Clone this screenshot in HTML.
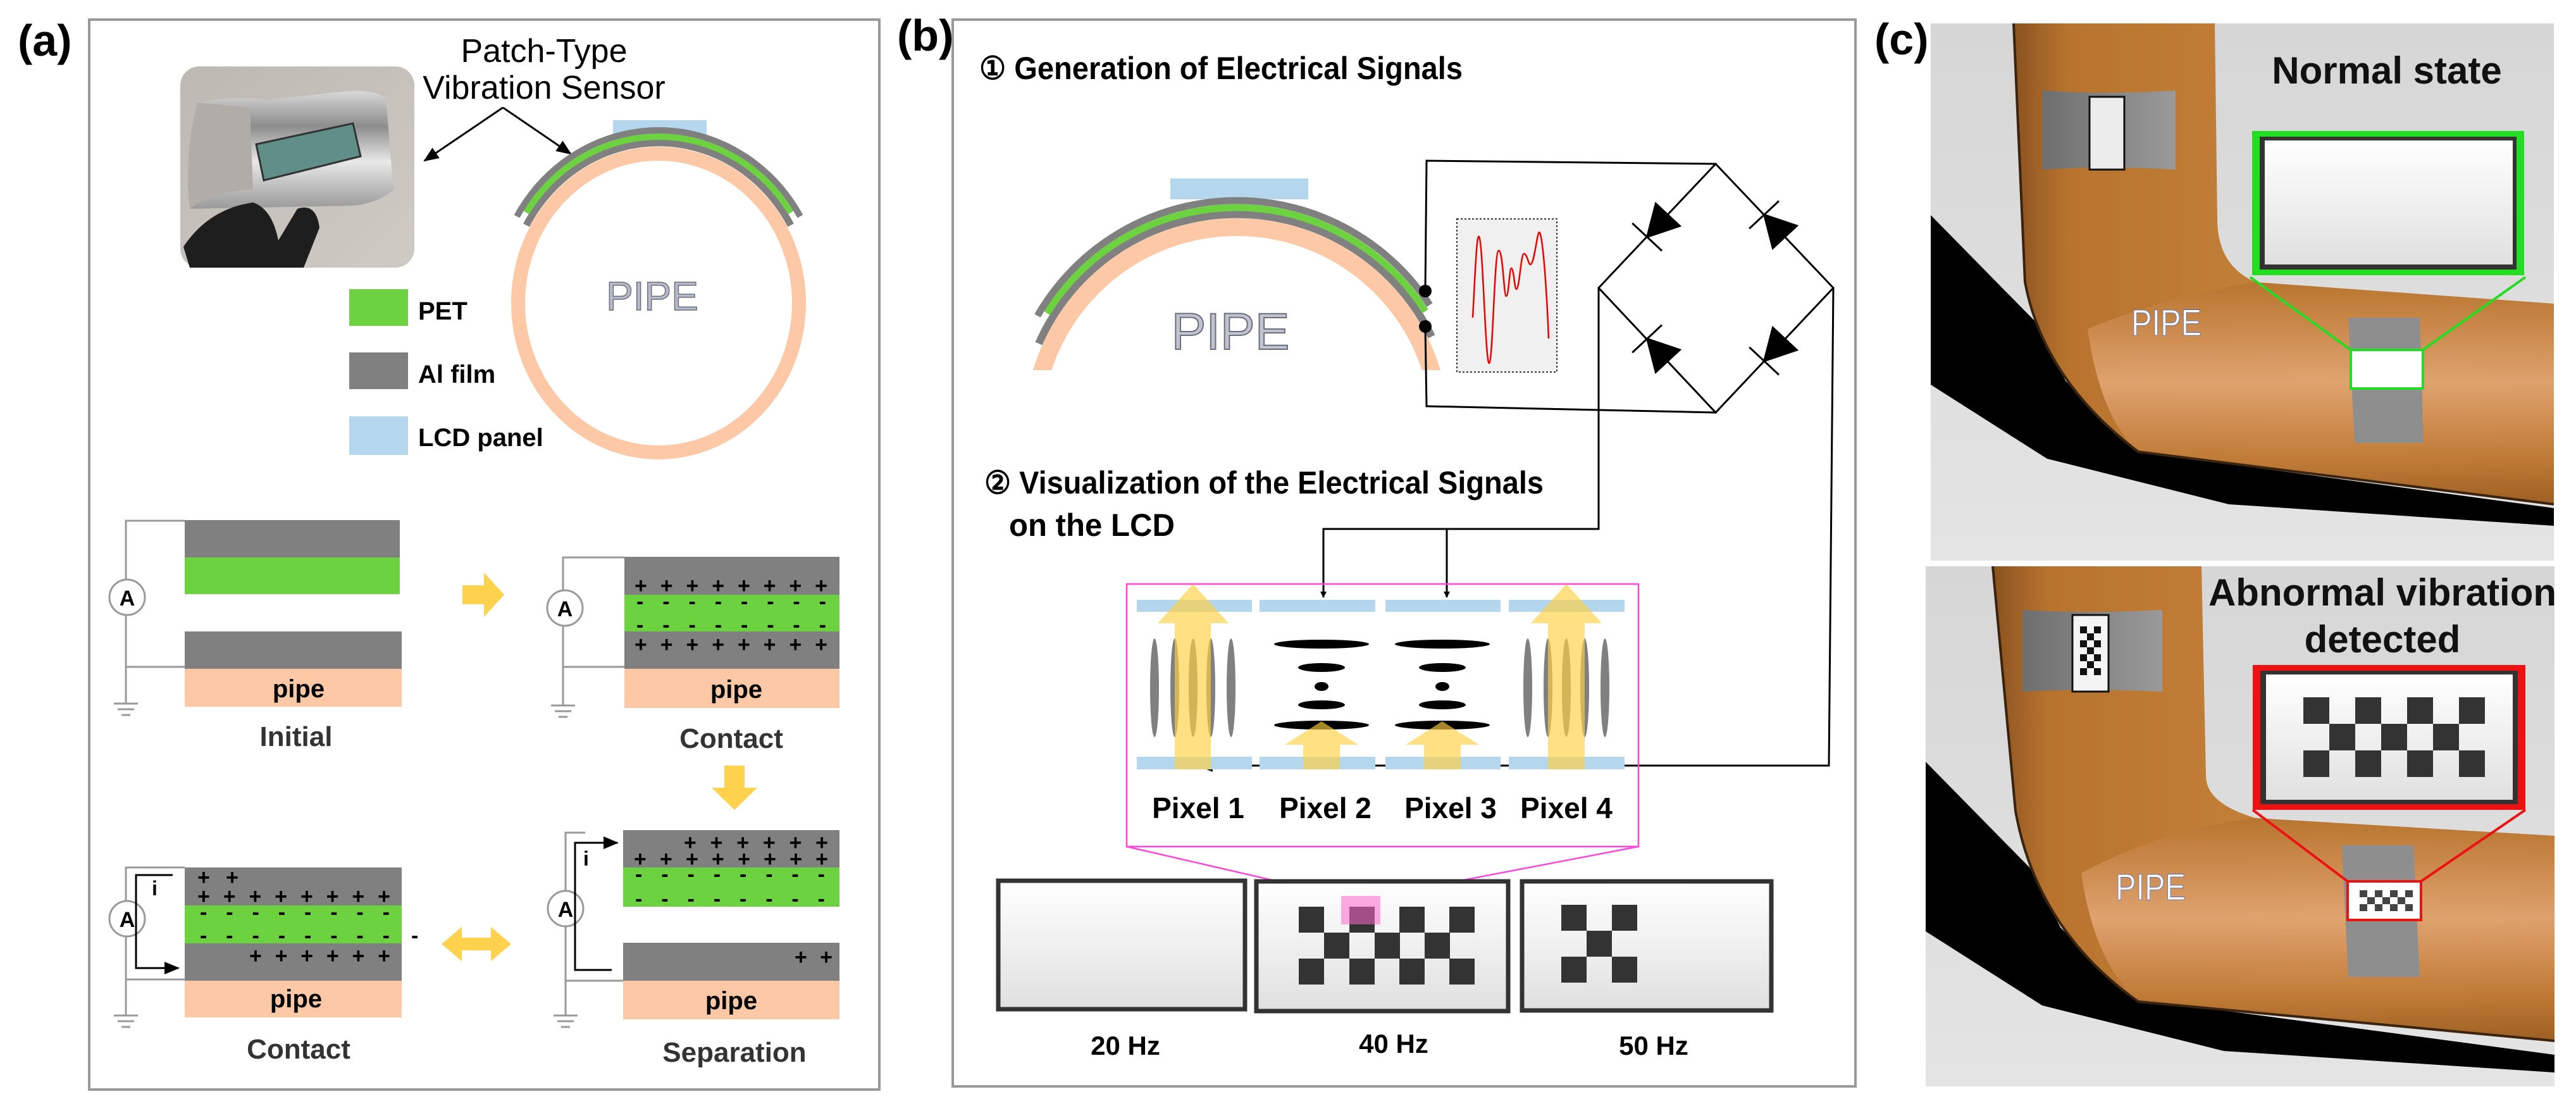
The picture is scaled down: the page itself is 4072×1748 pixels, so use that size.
<!DOCTYPE html>
<html><head><meta charset="utf-8"><style>
html,body{margin:0;padding:0;background:#fff;}
svg{display:block;}
text{font-family:"Liberation Sans",Arial,sans-serif;}
</style></head><body>
<svg width="4072" height="1748" viewBox="0 0 4072 1748" xmlns="http://www.w3.org/2000/svg">
<defs>
<linearGradient id="photo" x1="0" y1="0" x2="1" y2="1"><stop offset="0" stop-color="#bdb8b2"/><stop offset="1" stop-color="#cfcac4"/></linearGradient>
<linearGradient id="sheet" x1="0" y1="0" x2="0" y2="1"><stop offset="0" stop-color="#d8d8d8"/><stop offset="0.3" stop-color="#8d8d8d"/><stop offset="0.6" stop-color="#e8e8e8"/><stop offset="1" stop-color="#9a9a9a"/></linearGradient>
<linearGradient id="scr" x1="0" y1="0" x2="0" y2="1"><stop offset="0" stop-color="#ffffff"/><stop offset="1" stop-color="#e0e0e0"/></linearGradient>
<linearGradient id="bgc" x1="0" y1="0" x2="0" y2="1"><stop offset="0" stop-color="#d6d6d6"/><stop offset="1" stop-color="#e4e4e4"/></linearGradient>
<linearGradient id="pipeV" x1="0" y1="0" x2="1" y2="0"><stop offset="0" stop-color="#8a5220"/><stop offset="0.1" stop-color="#b8742e"/><stop offset="0.6" stop-color="#c7843c"/><stop offset="1" stop-color="#b5702a"/></linearGradient>
<linearGradient id="pipeH" x1="0" y1="0" x2="0" y2="1"><stop offset="0" stop-color="#b8742e"/><stop offset="0.45" stop-color="#e3a775"/><stop offset="0.8" stop-color="#c07a36"/><stop offset="1" stop-color="#9a5e22"/></linearGradient>
<linearGradient id="band" x1="0" y1="0" x2="1" y2="0"><stop offset="0" stop-color="#6e6e6e"/><stop offset="1" stop-color="#9a9a9a"/></linearGradient>
<clipPath id="cTop"><rect x="3052" y="37" width="985" height="849"/></clipPath>
<clipPath id="cBot"><rect x="3044" y="895" width="994" height="822"/></clipPath>
<clipPath id="arcClip"><rect x="1500" y="200" width="900" height="385"/></clipPath>
<marker id="ah" markerWidth="10" markerHeight="10" refX="9" refY="5" orient="auto" markerUnits="userSpaceOnUse" viewBox="0 0 10 10"><path d="M0,0 L10,5 L0,10 Z" fill="#000"/></marker>
<marker id="ah2" markerWidth="24" markerHeight="20" refX="22" refY="10" orient="auto" markerUnits="userSpaceOnUse"><path d="M0,0 L24,10 L0,20 Z" fill="#000"/></marker>
</defs>

<!-- ============ PANEL A ============ -->
<text x="28" y="88" font-size="70" font-weight="bold">(a)</text>
<rect x="141" y="31" width="1249" height="1691" fill="none" stroke="#999" stroke-width="4"/>
<!-- photo -->
<rect x="285" y="105" width="370" height="318" rx="30" fill="url(#photo)"/>
<path d="M312,162 Q380,150 420,158 L540,145 Q590,140 610,155 L622,300 Q600,320 560,325 L300,330 Q290,250 312,162 Z" fill="url(#sheet)"/>
<path d="M312,162 Q290,250 300,330 Q340,300 400,300 L395,170 Z" fill="#b0aca8"/>
<polygon points="405,228 558,195 570,247 417,285" fill="#5f8f88" stroke="#333" stroke-width="3"/>
<path d="M290,390 Q330,330 400,320 Q430,330 440,380 L470,330 Q500,320 505,360 L480,423 L300,423 Z" fill="#1e1e1e"/>
<text x="860" y="98" font-size="52" text-anchor="middle">Patch-Type</text>
<text x="860" y="156" font-size="52" text-anchor="middle">Vibration Sensor</text>
<line x1="795" y1="170" x2="671" y2="254" stroke="#000" stroke-width="3" marker-end="url(#ah2)"/>
<line x1="795" y1="170" x2="902" y2="243" stroke="#000" stroke-width="3" marker-end="url(#ah2)"/>
<!-- circle -->
<ellipse cx="1041" cy="479" rx="222" ry="236" fill="none" stroke="#fcc8a6" stroke-width="22"/>
<rect x="969" y="190" width="148" height="27" fill="#b4d7ee"/>
<path d="M832,356 A239,253 0 0 1 1250,356" fill="none" stroke="#808080" stroke-width="11"/>
<path d="M832,336 A249,263 0 0 1 1250,336" fill="none" stroke="#6dd23f" stroke-width="10"/>
<path d="M817,342 A259,273 0 0 1 1265,342" fill="none" stroke="#808080" stroke-width="10"/>
<text x="1031" y="490" font-size="64" text-anchor="middle" fill="#b8bcc8" stroke="#6a6f80" stroke-width="1.5">PIPE</text>
<!-- legend -->
<rect x="552" y="457" width="93" height="58" fill="#6dd23f"/>
<rect x="552" y="557" width="93" height="58" fill="#808080"/>
<rect x="552" y="658" width="93" height="61" fill="#b4d7ee"/>
<g font-size="40" font-weight="bold"><text x="661" y="505">PET</text><text x="661" y="605">Al film</text><text x="661" y="705">LCD panel</text></g>

<g stroke="#999" stroke-width="3" fill="none">
<polyline points="292,823 199,823 199,1112"/><line x1="199" y1="1054" x2="292" y2="1054"/>
<line x1="180" y1="1112" x2="218" y2="1112"/><line x1="186" y1="1121" x2="212" y2="1121"/><line x1="192" y1="1130" x2="206" y2="1130"/>
<polyline points="987,881 890,881 890,1115"/><line x1="890" y1="1054" x2="987" y2="1054"/>
<line x1="871" y1="1115" x2="909" y2="1115"/><line x1="877" y1="1124" x2="903" y2="1124"/><line x1="883" y1="1133" x2="897" y2="1133"/>
<polyline points="292,1371 199,1371 199,1605"/><line x1="199" y1="1548" x2="292" y2="1548"/>
<line x1="180" y1="1605" x2="218" y2="1605"/><line x1="186" y1="1614" x2="212" y2="1614"/><line x1="192" y1="1623" x2="206" y2="1623"/>
<polyline points="925,1316 894,1316 894,1605"/><line x1="894" y1="1550" x2="985" y2="1550"/>
<line x1="875" y1="1605" x2="913" y2="1605"/><line x1="881" y1="1614" x2="907" y2="1614"/><line x1="887" y1="1623" x2="901" y2="1623"/>
</g>
<rect x="292" y="822" width="340" height="59" fill="#808080"/><rect x="292" y="881" width="340" height="58" fill="#6dd23f"/>
<rect x="292" y="998" width="343" height="59" fill="#808080"/><rect x="292" y="1057" width="343" height="60" fill="#fcc8a6"/>
<rect x="987" y="880" width="340" height="60" fill="#808080"/><rect x="987" y="940" width="340" height="58" fill="#6dd23f"/>
<rect x="987" y="998" width="340" height="59" fill="#808080"/><rect x="987" y="1057" width="340" height="62" fill="#fcc8a6"/>
<rect x="292" y="1371" width="343" height="60" fill="#808080"/><rect x="292" y="1431" width="343" height="60" fill="#6dd23f"/>
<rect x="292" y="1491" width="343" height="59" fill="#808080"/><rect x="292" y="1550" width="343" height="58" fill="#fcc8a6"/>
<rect x="985" y="1312" width="342" height="59" fill="#808080"/><rect x="985" y="1371" width="342" height="62" fill="#6dd23f"/>
<rect x="985" y="1490" width="342" height="60" fill="#808080"/><rect x="985" y="1550" width="342" height="61" fill="#fcc8a6"/>
<g font-size="40" font-weight="bold" text-anchor="middle">
<text x="472" y="1102">pipe</text><text x="1164" y="1103">pipe</text><text x="468" y="1592">pipe</text><text x="1156" y="1595">pipe</text>
</g>
<g font-size="44" font-weight="bold" text-anchor="middle" fill="#333">
<text x="468" y="1179">Initial</text><text x="1156" y="1182">Contact</text><text x="472" y="1673">Contact</text><text x="1161" y="1678">Separation</text>
</g>
<g fill="#fff" stroke="#999" stroke-width="3"><circle cx="201" cy="944" r="28"/><circle cx="893" cy="961" r="28"/><circle cx="201" cy="1452" r="28"/><circle cx="894" cy="1436" r="28"/></g>
<g font-size="34" font-weight="bold" text-anchor="middle"><text x="201" y="957">A</text><text x="893" y="974">A</text><text x="201" y="1465">A</text><text x="894" y="1449">A</text></g>
<g font-size="34" font-weight="bold">
<text x="1003" y="937" textLength="305" lengthAdjust="spacing">++++++++</text>
<text x="1006" y="962" textLength="300" lengthAdjust="spacing">--------</text>
<text x="1006" y="999" textLength="300" lengthAdjust="spacing">--------</text>
<text x="1003" y="1030" textLength="305" lengthAdjust="spacing">++++++++</text>
<text x="312" y="1398" textLength="65" lengthAdjust="spacing">++</text>
<text x="312" y="1428" textLength="305" lengthAdjust="spacing">++++++++</text>
<text x="316" y="1453" textLength="300" lengthAdjust="spacing">--------</text>
<text x="316" y="1490" textLength="300" lengthAdjust="spacing">--------</text>
<text x="394" y="1522" textLength="223" lengthAdjust="spacing">++++++</text>
<text x="650" y="1490">-</text>
<text x="1081" y="1343" textLength="228" lengthAdjust="spacing">++++++</text>
<text x="1002" y="1369" textLength="307" lengthAdjust="spacing">++++++++</text>
<text x="1004" y="1393" textLength="300" lengthAdjust="spacing">--------</text>
<text x="1004" y="1432" textLength="300" lengthAdjust="spacing">--------</text>
<text x="1256" y="1524" textLength="60" lengthAdjust="spacing">++</text>
</g>
<polyline points="273,1383 215,1383 215,1530 282,1530" fill="none" stroke="#000" stroke-width="3" marker-end="url(#ah2)"/>
<text x="240" y="1415" font-size="32" font-weight="bold">i</text>
<polyline points="967,1533 909,1533 909,1332 976,1332" fill="none" stroke="#000" stroke-width="3" marker-end="url(#ah2)"/>
<text x="922" y="1368" font-size="32" font-weight="bold">i</text>
<polygon points="731,925 765,925 765,905 797,940 765,975 765,955 731,955" fill="#ffd24d"/>
<polygon points="1145,1210 1177,1210 1177,1245 1197,1245 1161,1280 1125,1245 1145,1245" fill="#ffd24d"/>
<polygon points="698,1492 730,1465 730,1482 776,1482 776,1465 808,1492 776,1519 776,1502 730,1502 730,1519" fill="#ffd24d"/>

<!-- ============ PANEL B ============ -->
<text x="1418" y="80" font-size="70" font-weight="bold">(b)</text>
<rect x="1506" y="31" width="1427" height="1686" fill="none" stroke="#999" stroke-width="4"/>
<text x="1548" y="125" font-size="50" font-weight="bold" textLength="764" lengthAdjust="spacingAndGlyphs">① Generation of Electrical Signals</text>
<g clip-path="url(#arcClip)">
<circle cx="1955" cy="681" r="322" fill="none" stroke="#fcc8a6" stroke-width="28"/>
</g>
<rect x="1850" y="282" width="218" height="33" fill="#b4d7ee"/>
<path d="M1642,543 A342,342 0 0 1 2263,532" fill="none" stroke="#808080" stroke-width="12"/>
<path d="M1655,495 A353,353 0 0 1 2253,492" fill="none" stroke="#6dd23f" stroke-width="11"/>
<path d="M1640,499 A364,364 0 0 1 2260,482" fill="none" stroke="#808080" stroke-width="11"/>
<text x="1945" y="552" font-size="82" text-anchor="middle" fill="#c0c4cc" stroke="#6a6f80" stroke-width="2">PIPE</text>
<circle cx="2253" cy="460" r="10" fill="#000"/><circle cx="2253" cy="516" r="10" fill="#000"/>
<g stroke="#000" stroke-width="3" fill="none">
<polyline points="2253,460 2255,254 2712,259"/>
<polyline points="2253,516 2255,642 2712,652"/>
<polygon points="2712,259 2898,455 2712,652 2527,455"/>
<polyline points="2527,455 2527,836 2092,836 2092,944" marker-end="url(#ah)"/>
<polyline points="2287,836 2287,944" marker-end="url(#ah)"/>
<polyline points="2898,455 2891,1210 1895,1210" marker-end="url(#ah2)"/>
</g>
<g fill="#000" stroke="#000" stroke-width="3">
<g transform="translate(2620,357) rotate(133)"><polygon points="-24,-26 -24,26 24,0"/><line x1="24" y1="-32" x2="24" y2="32"/></g>
<g transform="translate(2805,357) rotate(227)"><polygon points="-24,-26 -24,26 24,0"/><line x1="24" y1="-32" x2="24" y2="32"/></g>
<g transform="translate(2620,553) rotate(227)"><polygon points="-24,-26 -24,26 24,0"/><line x1="24" y1="-32" x2="24" y2="32"/></g>
<g transform="translate(2805,553) rotate(133)"><polygon points="-24,-26 -24,26 24,0"/><line x1="24" y1="-32" x2="24" y2="32"/></g>
</g>
<rect x="2303" y="346" width="158" height="242" fill="#f0f0f0" stroke="#333" stroke-width="2" stroke-dasharray="3,3"/>
<path d="M2328,502 C2332,430 2334,370 2338,374 C2344,380 2348,576 2354,574 C2360,572 2362,396 2369,396 C2376,396 2377,468 2381,468 C2385,468 2386,424 2389,424 C2393,424 2394,457 2397,457 C2402,457 2404,401 2409,401 C2414,401 2416,418 2419,418 C2426,418 2430,360 2434,368 C2440,380 2446,480 2448,535" fill="none" stroke="#e00" stroke-width="2.5"/>
<text x="1556" y="780" font-size="50" font-weight="bold" textLength="884" lengthAdjust="spacingAndGlyphs">② Visualization of the Electrical Signals</text>
<text x="1595" y="847" font-size="50" font-weight="bold" textLength="262" lengthAdjust="spacingAndGlyphs">on the LCD</text>
<rect x="1781" y="923" width="809" height="415" fill="none" stroke="#ff44dd" stroke-width="2.5"/>
<g fill="#b4d7ee">
<rect x="1797" y="948" width="182" height="19"/><rect x="1991" y="948" width="183" height="19"/><rect x="2190" y="948" width="182" height="19"/><rect x="2385" y="948" width="183" height="19"/>
<rect x="1797" y="1196" width="182" height="20"/><rect x="1991" y="1196" width="183" height="20"/><rect x="2190" y="1196" width="182" height="20"/><rect x="2385" y="1196" width="183" height="20"/>
</g>
<g fill="#808080">
<ellipse cx="1825" cy="1087" rx="7" ry="78"/><ellipse cx="1857" cy="1087" rx="7" ry="78"/><ellipse cx="1886" cy="1087" rx="7" ry="78"/><ellipse cx="1914" cy="1087" rx="7" ry="78"/><ellipse cx="1946" cy="1087" rx="7" ry="78"/>
<ellipse cx="2415" cy="1087" rx="7" ry="78"/><ellipse cx="2447" cy="1087" rx="7" ry="78"/><ellipse cx="2476" cy="1087" rx="7" ry="78"/><ellipse cx="2505" cy="1087" rx="7" ry="78"/><ellipse cx="2537" cy="1087" rx="7" ry="78"/>
</g>
<g fill="#000">
<ellipse cx="2089" cy="1018" rx="75" ry="7"/><ellipse cx="2089" cy="1055" rx="37" ry="7"/><ellipse cx="2089" cy="1085" rx="11" ry="7"/><ellipse cx="2089" cy="1114" rx="37" ry="7"/><ellipse cx="2089" cy="1146" rx="75" ry="7"/>
<ellipse cx="2280" cy="1018" rx="75" ry="7"/><ellipse cx="2280" cy="1055" rx="37" ry="7"/><ellipse cx="2280" cy="1085" rx="11" ry="7"/><ellipse cx="2280" cy="1114" rx="37" ry="7"/><ellipse cx="2280" cy="1146" rx="75" ry="7"/>
</g>
<g fill="#ffcf3f" fill-opacity="0.65">
<polygon points="1857,1216 1857,985 1830,985 1886,923 1942,985 1914,985 1914,1216"/>
<polygon points="2447,1216 2447,985 2420,985 2476,923 2532,985 2505,985 2505,1216"/>
<polygon points="2060,1216 2060,1177 2031,1177 2089,1140 2147,1177 2118,1177 2118,1216"/>
<polygon points="2251,1216 2251,1177 2222,1177 2280,1140 2338,1177 2309,1177 2309,1216"/>
</g>
<g font-size="46" font-weight="bold" text-anchor="middle">
<text x="1894" y="1293">Pixel 1</text><text x="2095" y="1293">Pixel 2</text><text x="2293" y="1293">Pixel 3</text><text x="2476" y="1293">Pixel 4</text>
</g>
<line x1="1781" y1="1338" x2="2120" y2="1416" stroke="#ff44dd" stroke-width="2.5"/>
<line x1="2590" y1="1338" x2="2182" y2="1416" stroke="#ff44dd" stroke-width="2.5"/>
<g stroke="#333" stroke-width="7" fill="url(#scr)">
<rect x="1578" y="1392" width="390" height="203"/><rect x="1986" y="1393" width="398" height="205"/><rect x="2406" y="1393" width="394" height="204"/>
</g>
<g fill="#333">
<rect x="2053" y="1433" width="40" height="41"/><rect x="2133" y="1433" width="40" height="41"/><rect x="2212" y="1433" width="40" height="41"/><rect x="2291" y="1433" width="40" height="41"/>
<rect x="2093" y="1474" width="40" height="41"/><rect x="2173" y="1474" width="40" height="41"/><rect x="2252" y="1474" width="40" height="41"/>
<rect x="2053" y="1515" width="40" height="41"/><rect x="2133" y="1515" width="40" height="41"/><rect x="2212" y="1515" width="40" height="41"/><rect x="2291" y="1515" width="40" height="41"/>
<rect x="2468" y="1430" width="40" height="41"/><rect x="2548" y="1430" width="40" height="41"/><rect x="2508" y="1471" width="40" height="41"/><rect x="2468" y="1512" width="40" height="41"/><rect x="2548" y="1512" width="40" height="41"/>
</g>
<rect x="2120" y="1416" width="62" height="45" fill="#ff66cc" fill-opacity="0.55"/>
<g font-size="42" font-weight="bold" text-anchor="middle"><text x="1779" y="1667">20 Hz</text><text x="2203" y="1664">40 Hz</text><text x="2614" y="1667">50 Hz</text></g>

<!-- ============ PANEL C ============ -->
<text x="2963" y="86" font-size="70" font-weight="bold">(c)</text>
<g clip-path="url(#cTop)">
<rect x="3052" y="37" width="985" height="849" fill="url(#bgc)"/>
<polygon points="3052,340 3222,513 3265,602 3380,714 4037,803 4037,831 3523,797 3236,725 3052,608" fill="#000"/>
<path d="M3183,37 L3201,446 Q3230,600 3380,714 L4037,797 L4037,480 L3566,446 Q3505,420 3505,346 L3501,37 Z" fill="url(#pipeV)"/>
<path d="M3300,520 Q3420,470 3566,446 L4037,480 L4037,797 L3380,714 Q3320,660 3300,520 Z" fill="url(#pipeH)" opacity="0.9"/>
<path d="M3183,37 L3201,446 Q3230,600 3380,714 L4037,797" fill="none" stroke="#3a2410" stroke-width="4"/>
<path d="M3228,143 Q3330,150 3439,143 L3439,268 Q3330,262 3228,268 Z" fill="url(#band)"/>
<rect x="3303" y="153" width="55" height="115" fill="#ececec" stroke="#111" stroke-width="3"/>
<path d="M3712,502 L3825,502 L3831,700 L3722,700 Z" fill="#8e8e8e"/>
<rect x="3716" y="553" width="114" height="61" fill="#fff" stroke="#22dd22" stroke-width="4"/>
<line x1="3557" y1="438" x2="3716" y2="553" stroke="#22dd22" stroke-width="4"/>
<line x1="3992" y1="438" x2="3830" y2="553" stroke="#22dd22" stroke-width="4"/>
<rect x="3560" y="207" width="430" height="228" fill="#22dd22"/>
<rect x="3572" y="216" width="406" height="210" fill="#333"/>
<rect x="3580" y="222" width="392" height="196" fill="url(#scr)"/>
<text x="3773" y="132" font-size="60" font-weight="bold" text-anchor="middle" fill="#111">Normal state</text>
<text x="3369" y="530" font-size="58" textLength="111" lengthAdjust="spacingAndGlyphs" fill="#fff" stroke="#3a5fd0" stroke-width="0.8">PIPE</text>
</g>
<g clip-path="url(#cBot)">
<rect x="3044" y="895" width="994" height="822" fill="url(#bgc)"/>
<polygon points="3044,1204 3214,1377 3257,1466 3372,1578 4038,1667 4038,1695 3515,1661 3228,1589 3044,1472" fill="#000"/>
<path d="M3150,895 L3186,1282 Q3220,1470 3380,1583 L4038,1645 L4038,1321 L3566,1293 Q3487,1270 3487,1226 L3480,895 Z" fill="url(#pipeV)"/>
<path d="M3290,1380 Q3420,1310 3566,1293 L4038,1321 L4038,1645 L3380,1583 Q3310,1520 3290,1380 Z" fill="url(#pipeH)" opacity="0.9"/>
<path d="M3150,895 L3186,1282 Q3220,1470 3380,1583 L4038,1645" fill="none" stroke="#3a2410" stroke-width="4"/>
<path d="M3197,964 Q3300,970 3418,964 L3418,1093 Q3300,1088 3197,1093 Z" fill="url(#band)"/>
<rect x="3276" y="972" width="57" height="121" fill="#f4f4f4" stroke="#111" stroke-width="3"/>
<g fill="#111">
<rect x="3288" y="990" width="11" height="11"/><rect x="3310" y="990" width="11" height="11"/><rect x="3299" y="1001" width="11" height="11"/>
<rect x="3288" y="1012" width="11" height="11"/><rect x="3310" y="1012" width="11" height="11"/><rect x="3299" y="1023" width="11" height="11"/>
<rect x="3288" y="1034" width="11" height="11"/><rect x="3310" y="1034" width="11" height="11"/><rect x="3299" y="1045" width="11" height="11"/>
<rect x="3288" y="1056" width="11" height="11"/><rect x="3310" y="1056" width="11" height="11"/>
</g>
<path d="M3702,1336 L3815,1336 L3825,1544 L3712,1544 Z" fill="#8e8e8e"/>
<rect x="3711" y="1393" width="116" height="61" fill="#fff" stroke="#ee1111" stroke-width="4"/>
<g fill="#444">
<rect x="3730" y="1407" width="12" height="11"/><rect x="3754" y="1407" width="12" height="11"/><rect x="3778" y="1407" width="12" height="11"/><rect x="3802" y="1407" width="12" height="11"/>
<rect x="3742" y="1418" width="12" height="11"/><rect x="3766" y="1418" width="12" height="11"/><rect x="3790" y="1418" width="12" height="11"/>
<rect x="3730" y="1429" width="12" height="11"/><rect x="3754" y="1429" width="12" height="11"/><rect x="3778" y="1429" width="12" height="11"/><rect x="3802" y="1429" width="12" height="11"/>
</g>
<line x1="3561" y1="1280" x2="3711" y2="1393" stroke="#ee1111" stroke-width="4"/>
<line x1="3992" y1="1280" x2="3827" y2="1393" stroke="#ee1111" stroke-width="4"/>
<rect x="3561" y="1051" width="431" height="229" fill="#ee1111"/>
<rect x="3573" y="1060" width="407" height="211" fill="#333"/>
<rect x="3582" y="1066" width="390" height="198" fill="url(#scr)"/>
<g fill="#333">
<rect x="3641" y="1102" width="41" height="42"/><rect x="3723" y="1102" width="41" height="42"/><rect x="3805" y="1102" width="41" height="42"/><rect x="3887" y="1102" width="41" height="42"/>
<rect x="3682" y="1144" width="41" height="42"/><rect x="3764" y="1144" width="41" height="42"/><rect x="3846" y="1144" width="41" height="42"/>
<rect x="3641" y="1186" width="41" height="42"/><rect x="3723" y="1186" width="41" height="42"/><rect x="3805" y="1186" width="41" height="42"/><rect x="3887" y="1186" width="41" height="42"/>
</g>
<text x="3766" y="957" font-size="60" font-weight="bold" text-anchor="middle" fill="#111">Abnormal vibration</text>
<text x="3766" y="1031" font-size="60" font-weight="bold" text-anchor="middle" fill="#111">detected</text>
<text x="3344" y="1422" font-size="58" textLength="111" lengthAdjust="spacingAndGlyphs" fill="#fff" stroke="#3a5fd0" stroke-width="0.8">PIPE</text>
</g>
</svg>
</body></html>
